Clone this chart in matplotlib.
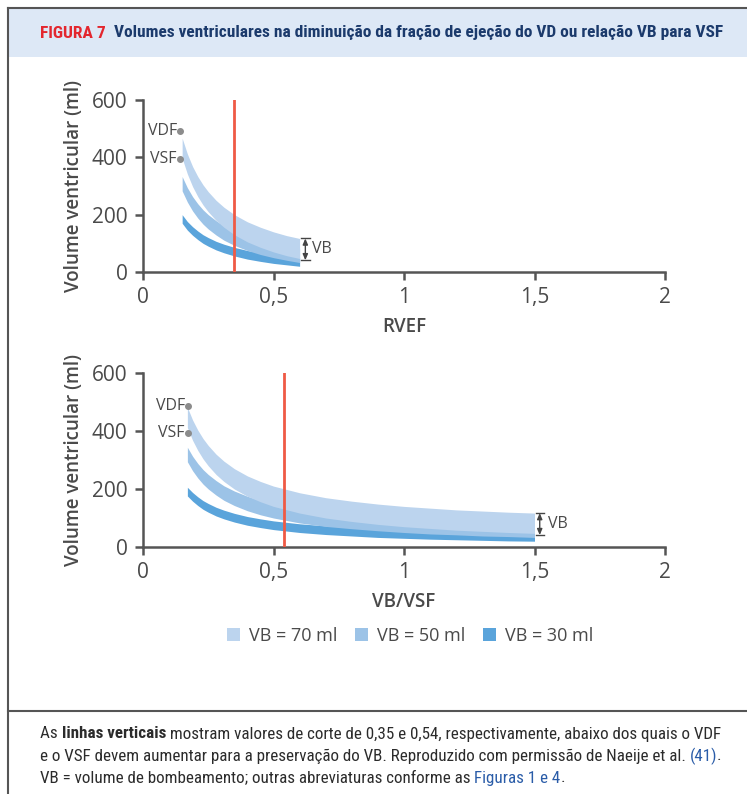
import numpy as np
import matplotlib
matplotlib.use("Agg")
import matplotlib.pyplot as plt
from matplotlib.patches import Patch, Rectangle
from matplotlib.lines import Line2D
from matplotlib import font_manager

# --- dados ---
# painel superior: RVEF
ef = [0.15, 0.17, 0.19, 0.21, 0.23, 0.25, 0.28, 0.31, 0.35, 0.40, 0.45, 0.50, 0.55, 0.60]
vdf_ef_70 = [467, 412, 368, 333, 304, 280, 250, 226, 200, 175, 156, 140, 127, 117]
vsf_ef_70 = [397, 342, 298, 263, 234, 210, 180, 156, 130, 105, 86, 70, 57, 47]
vdf_ef_50 = [333, 294, 263, 238, 217, 200, 179, 161, 143, 125, 111, 100, 91, 83]
vsf_ef_50 = [283, 244, 213, 188, 167, 150, 129, 111, 93, 75, 61, 50, 41, 33]
vdf_ef_30 = [200, 176, 158, 143, 130, 120, 107, 97, 86, 75, 67, 60, 55, 50]
vsf_ef_30 = [170, 146, 128, 113, 100, 90, 77, 67, 56, 45, 37, 30, 25, 20]

# painel inferior: VB/VSF
ratio = [0.17, 0.19, 0.21, 0.23, 0.25, 0.28, 0.31, 0.35, 0.40, 0.45, 0.50,
         0.60, 0.70, 0.80, 0.90, 1.00, 1.10, 1.20, 1.30, 1.40, 1.50]
vdf_r_70 = [482, 438, 403, 374, 350, 320, 296, 270, 245, 226, 210, 187, 170, 158, 148, 140, 134, 128, 124, 120, 117]
vsf_r_70 = [412, 368, 333, 304, 280, 250, 226, 200, 175, 156, 140, 117, 100, 88, 78, 70, 64, 58, 54, 50, 47]
vdf_r_50 = [344, 313, 288, 267, 250, 229, 211, 193, 175, 161, 150, 133, 121, 113, 106, 100, 95, 92, 88, 86, 83]
vsf_r_50 = [294, 263, 238, 217, 200, 179, 161, 143, 125, 111, 100, 83, 71, 63, 56, 50, 45, 42, 38, 36, 33]
vdf_r_30 = [206, 188, 173, 160, 150, 137, 127, 116, 105, 97, 90, 80, 73, 68, 63, 60, 57, 55, 53, 51, 50]
vsf_r_30 = [176, 158, 143, 130, 120, 107, 97, 86, 75, 67, 60, 50, 43, 38, 33, 30, 27, 25, 23, 21, 20]

# marcadores VDF / VSF (x, VDF, VSF)
marcas_ef = [0.142, 493, 395]
marcas_r = [0.172, 486, 393]

cortes = [0.35, 0.54]
legendas = ["VB = 70 ml", "VB = 50 ml", "VB = 30 ml"]
cores = ["#bcd4ee", "#9cc3e7", "#5aa4db"]

# --- fontes ---
nomes = {f.name for f in font_manager.fontManager.ttflist}
def escolhe(lista):
    for n in lista:
        if n in nomes:
            return n
    return "DejaVu Sans"
COND = escolhe(["Roboto Condensed", "Liberation Sans Narrow", "Open Sans Condensed", "Noto Sans"])
AXF = escolhe(["Open Sans", "Noto Sans", "DejaVu Sans"])

W, H = 747, 794
fig = plt.figure(figsize=(W / 100, H / 100), dpi=100)
fig.patch.set_facecolor("white")
r = fig.canvas.get_renderer()

def fx(px):
    return px / W
def fy(py):
    return 1 - py / H

# moldura
fig.patches.append(Rectangle((fx(8), fy(57)), fx(747) - fx(8), fy(8) - fy(57),
                             transform=fig.transFigure, facecolor="#dde8f6", edgecolor="none"))
fig.add_artist(Line2D([fx(7.5), 1], [fy(7.5), fy(7.5)], color="#555555", lw=1.5))
fig.add_artist(Line2D([fx(7.5), fx(7.5)], [fy(7.5), 0], color="#555555", lw=1.5))
fig.add_artist(Line2D([fx(7.5), 1], [fy(711), fy(711)], color="#555555", lw=1.5))

def largura(s, **kw):
    t1 = fig.text(0, 0, "x" + s + "x", **kw)
    w1 = t1.get_window_extent(r).width
    t1.remove()
    t2 = fig.text(0, 0, "xx", **kw)
    w2 = t2.get_window_extent(r).width
    t2.remove()
    return w1 - w2

def linha(x, y, partes, size):
    for s, peso, cor in partes:
        kw = dict(fontsize=size, fontweight=peso, color=cor, family=COND)
        fig.text(fx(x), fy(y), s, va="center", ha="left", **kw)
        x += largura(s, **kw)

# título
t_a = "FIGURA 7"
t_b = "Volumes ventriculares na diminuição da fração de ejeção do VD ou relação VB para VSF"
base = 12
wa = largura(t_a, fontsize=base, fontweight="bold", family=COND)
wb = largura(t_b, fontsize=base, fontweight="bold", family=COND)
tam = base * 679 / (wa + wb)
linha(40, 33, [(t_a, "bold", "#e3262e")], tam)
linha(40 + wa * tam / base + 8, 33, [(t_b, "bold", "#1b3a6c")], tam)

# --- eixos ---
def painel(ax, x, bandas, marcas, corte, xlabel, vb_x, txt_x):
    for (sup, inf), cor, z in zip(bandas[::-1], cores[::-1], [1, 2, 3]):
        ax.fill_between(x, inf, sup, color=cor, lw=0, zorder=z)
    ax.axvline(corte, color="#ef5a45", lw=2, zorder=5)
    ax.set_xlim(0, 2)
    ax.set_ylim(0, 600)
    ax.set_xticks([0, 0.5, 1, 1.5, 2])
    ax.set_xticklabels(["0", "0,5", "1", "1,5", "2"])
    ax.set_yticks([0, 200, 400, 600])
    for s in ["top", "right"]:
        ax.spines[s].set_visible(False)
    for s in ["left", "bottom"]:
        ax.spines[s].set_color("#555555")
        ax.spines[s].set_linewidth(1.8)
    ax.tick_params(direction="out", length=6, width=1.8, color="#555555",
                   labelsize=15, labelcolor="#4a4a4a", pad=5)
    for lab in ax.get_xticklabels() + ax.get_yticklabels():
        lab.set_family(AXF)
    ax.set_ylabel("Volume ventricular (ml)", fontsize=13.5, fontweight="semibold",
                  color="#4a4a4a", family=AXF, labelpad=6)
    ax.set_xlabel(xlabel, fontsize=13.5, fontweight="semibold",
                  color="#4a4a4a", family=AXF, labelpad=6)
    # VDF / VSF
    x0 = marcas[0]
    for val, txt in [(marcas[1], "VDF"), (marcas[2], "VSF")]:
        ax.plot(x0, val, "o", ms=4, color="#8c8c8c", zorder=6, clip_on=False)
        ax.text(x0 - 0.012, val, txt, ha="right", va="center", fontsize=11.5,
                color="#4a4a4a", family=AXF)
    # VB
    sup70, inf70 = bandas[0]
    top, bot = sup70[-1], inf70[-1] - 6
    ax.annotate("", xy=(vb_x, top), xytext=(vb_x, bot),
                arrowprops=dict(arrowstyle="<|-|>,head_length=0.35,head_width=0.15",
                                color="#444444", lw=1, shrinkA=0, shrinkB=0))
    for yy in (top, bot):
        ax.plot([vb_x - 0.016, vb_x + 0.016], [yy, yy], color="#444444", lw=1)
    ax.text(txt_x, (top + bot) / 2, "VB", ha="left", va="center", fontsize=11.5,
            color="#4a4a4a", family=AXF)

ax1 = fig.add_axes([fx(143), fy(272), fx(665) - fx(143), fy(100) - fy(272)])
painel(ax1, ef, [(vdf_ef_70, vsf_ef_70), (vdf_ef_50, vsf_ef_50), (vdf_ef_30, vsf_ef_30)],
       marcas_ef, cortes[0], "RVEF", 0.622, 0.648)

ax2 = fig.add_axes([fx(143), fy(547), fx(665) - fx(143), fy(373) - fy(547)])
painel(ax2, ratio, [(vdf_r_70, vsf_r_70), (vdf_r_50, vsf_r_50), (vdf_r_30, vsf_r_30)],
       marcas_r, cortes[1], "VB/VSF", 1.52, 1.55)

# legenda
alças = [Patch(facecolor=c, edgecolor="none") for c in cores]
leg = fig.legend(alças, legendas, loc="center", bbox_to_anchor=(fx(410), fy(636)),
                 ncol=3, frameon=False, handlelength=0.7, handleheight=0.7,
                 handletextpad=0.5, columnspacing=1.0, prop={"family": AXF, "size": 13})
for t in leg.get_texts():
    t.set_color("#4a4a4a")

# legenda da figura
azul = "#2a5ca8"
cinza = "#2b2b2b"
l1 = [("As ", "normal", cinza), ("linhas verticais", "bold", cinza),
      (" mostram valores de corte de 0,35 e 0,54, respectivamente, abaixo dos quais o VDF", "normal", cinza)]
l2 = [("e o VSF devem aumentar para a preservação do VB. Reproduzido com permissão de Naeije et al. ", "normal", cinza),
      ("(41)", "normal", azul), (".", "normal", cinza)]
l3 = [("VB = volume de bombeamento; outras abreviaturas conforme as ", "normal", cinza),
      ("Figuras 1 e 4", "normal", azul), (".", "normal", cinza)]
b = 10
w1 = sum(largura(s, fontsize=b, fontweight=p, family=COND) for s, p, c in l1)
tc = b * 680 / w1
linha(40, 734, l1, tc)
linha(40, 756, l2, tc)
linha(40, 778, l3, tc)

fig.savefig("out.png", dpi=100, facecolor="white")
